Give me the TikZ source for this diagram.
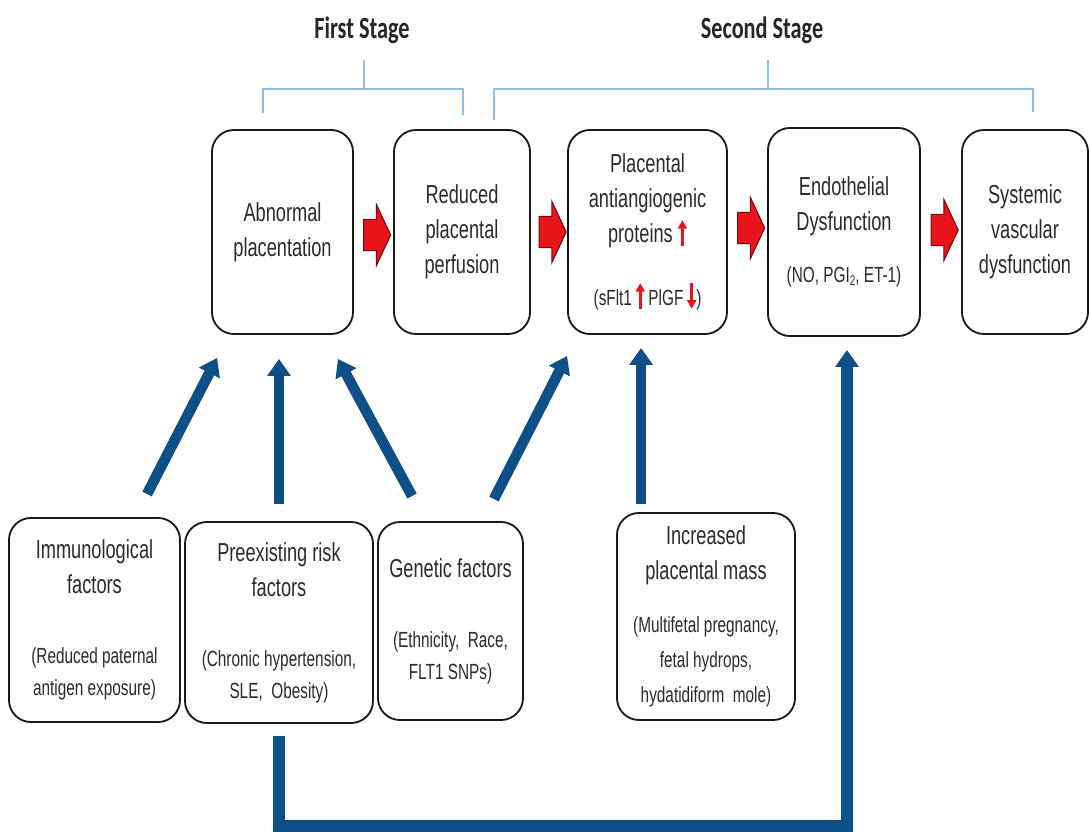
\documentclass[tikz,border=0pt]{standalone}
\usepackage{fontspec}
\setmainfont{Liberation Sans}
\newfontfamily\narrowsans[FakeStretch=0.7]{Liberation Sans}
\newfontfamily\stagefont[FakeStretch=0.72]{Carlito}
\usepackage{tikz}
\usetikzlibrary{calc, shapes.arrows, arrows.meta}
\usepackage{xcolor}
\definecolor{FlowBlue}{HTML}{0E4F88}
\definecolor{BracketBlue}{HTML}{8DC0E8}
\definecolor{AlertRed}{HTML}{E8141A}
\definecolor{AlertDark}{HTML}{7A0A0A}
\definecolor{BoxText}{HTML}{2B2B2B}

\newcommand{\notetext}[1]{{\fontsize{15.6}{22}\selectfont #1}}
\newcommand{\upred}{\tikz[baseline=0pt,x=1pt,y=1pt]\draw[AlertRed,line width=2pt,-{Triangle[width=6.5pt,length=6pt]}] (0,-2)--(0,16);}
\newcommand{\downred}{\tikz[baseline=0pt,x=1pt,y=1pt]\draw[AlertRed,line width=2pt,-{Triangle[width=6.5pt,length=6pt]}] (0,16)--(0,-2);}

\tikzset{
  stepbox/.style={draw=black!90, line width=1.3pt, rounded corners=0.55cm,
    align=center, inner sep=0pt, text=BoxText,
    font=\narrowsans\fontsize{18.5}{25}\selectfont},
  redarrow/.style={single arrow, draw=AlertDark, fill=AlertRed, line width=0.8pt,
    inner xsep=0pt, inner ysep=0.375cm, minimum height=0.675cm,
    single arrow head extend=0.375cm, single arrow tip angle=130},
  riskarrow/.style={draw=FlowBlue, line width=7.5pt,
    -{Triangle[length=12pt,width=16pt]}},
  stagetitle/.style={font=\stagefont\bfseries\fontsize{22}{26}\selectfont, text=black!85},
  bracket/.style={draw=BracketBlue, line width=1.2pt}
}

\begin{document}
\begin{tikzpicture}[x=0.025cm, y=-0.025cm]
\useasboundingbox (0,0) rectangle (1091,832);

% stages
\node[stagetitle] (first) at (362,30) {First Stage};
\node[stagetitle] (second) at (762,30) {Second Stage};
\draw[bracket] (263,113) |- (463,89) -- (463,115);
\draw[bracket] (364,89) -- (364,60);
\draw[bracket] (494,120) |- (1033,89) -- (1033,112);
\draw[bracket] (768,89) -- (768,60);

% main chain
\node[stepbox, minimum width=3.525cm, minimum height=5.1cm] (abn) at (282.5,232) {Abnormal\\placentation};
\node[stepbox, minimum width=3.4cm, minimum height=5.1cm] (red) at (462,232) {Reduced\\placental\\perfusion};
\node[stepbox, minimum width=3.975cm, minimum height=5.1cm] (pla) at (647.5,232)
  {Placental\\antiangiogenic\\proteins \upred\\[19.8pt]\notetext{(sFlt1\,\upred\,PlGF\,\downred)}};
\node[stepbox, minimum width=3.8cm, minimum height=5.2cm] (endo) at (844,232)
  {Endothelial\\Dysfunction\\[12pt]\notetext{(NO, PGI\raisebox{-2pt}{\fontsize{10}{10}\selectfont 2}, ET-1)}};
\node[stepbox, minimum width=3.15cm, minimum height=5.1cm] (sys) at (1025,232) {Systemic\\vascular\\dysfunction};

\node[redarrow] (r1) at ($(abn.east)!.5!(red.west)+(0,3)$) {};
\node[redarrow] (r2) at ($(red.east)!.5!(pla.west)$) {};
\node[redarrow] (r3) at ($(pla.east)!.5!(endo.west)+(0,-4)$) {};
\node[redarrow] (r4) at ($(endo.east)!.5!(sys.west)+(0,-2)$) {};

% risk factors
\node[stepbox, minimum width=4.275cm, minimum height=5.1cm] (imm) at (94.5,620)
  {Immunological\\factors\\[24.8pt]\notetext{(Reduced paternal}\\[-2.2pt]\notetext{antigen exposure)}};
\node[stepbox, minimum width=4.7cm, minimum height=5.025cm] (pre) at (279,622.5)
  {Preexisting risk\\factors\\[24.8pt]\notetext{(Chronic hypertension,}\\[-2.2pt]\notetext{SLE,\ \ Obesity)}};
\node[stepbox, minimum width=3.625cm, minimum height=4.95cm] (gen) at (450.5,621)
  {Genetic factors\\[24.8pt]\notetext{(Ethnicity,\ \ Race,}\\[-2.2pt]\notetext{FLT1 SNPs)}};
\node[stepbox, minimum width=4.45cm, minimum height=5.175cm] (inc) at (706,616.5)
  {Increased\\placental mass\\[12.7pt]\notetext{(Multifetal pregnancy,}\\\notetext{fetal hydrops,}\\\notetext{hydatidiform\ \ mole)}};

% blue arrows
\draw[riskarrow] ($(imm.north)+(52.5,-23)$) -- ($(abn.south west)+(6,23)$);
\draw[riskarrow] ($(pre.north)+(0,-17)$) -- ($(pre.north |- abn.south)+(0,24)$);
\draw[riskarrow] ($(gen.north)+(-38.5,-25)$) -- ($(abn.south east)+(-16,24)$);
\draw[riskarrow] ($(gen.north east)+(-30,-22)$) -- ($(pla.south west)+(0,21)$);
\draw[riskarrow] ($(inc.north west)+(25,-8)$) -- ($(inc.north west |- pla.south)+(25,13)$);
\draw[riskarrow, line width=8.5pt, line join=miter] ($(pre.south)+(0,12)$) -- ++(0,90) -| ($(endo.south)+(3,13)$);

\end{tikzpicture}
\end{document}
